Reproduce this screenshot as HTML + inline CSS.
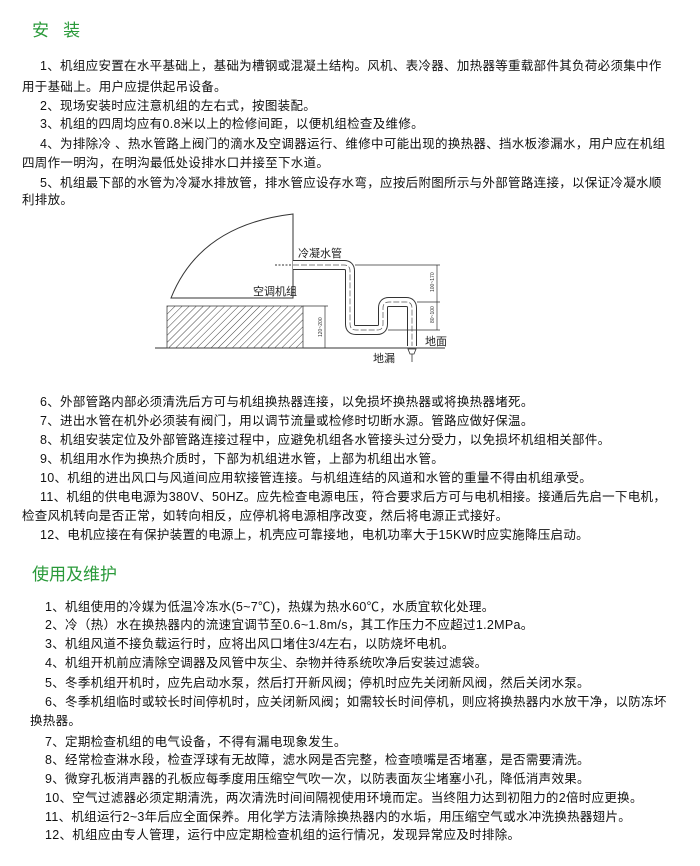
<!DOCTYPE html>
<html><head><meta charset="utf-8"><style>
html,body{margin:0;padding:0;background:#fff;}
body{width:700px;height:866px;position:relative;overflow:hidden;font-family:"Liberation Sans","Noto Sans CJK SC","WenQuanYi Zen Hei",sans-serif;color:#111;}
.t{position:absolute;font-size:12.5px;line-height:18px;white-space:nowrap;letter-spacing:0.3px;}
.h{position:absolute;color:#2a9a3a;font-size:17px;line-height:20px;white-space:nowrap;}
</style></head><body>
<div class="h" style="left:32px;top:21px;">安&nbsp;&nbsp;&nbsp;装</div>
<div class="t" style="left:40px;top:57px;">1、机组应安置在水平基础上，基础为槽钢或混凝土结构。风机、表冷器、加热器等重载部件其负荷必须集中作</div>
<div class="t" style="left:22px;top:78px;">用于基础上。用户应提供起吊设备。</div>
<div class="t" style="left:40px;top:97px;">2、现场安装时应注意机组的左右式，按图装配。</div>
<div class="t" style="left:40px;top:115px;">3、机组的四周均应有0.8米以上的检修间距，以便机组检查及维修。</div>
<div class="t" style="left:40px;top:135px;">4、为排除冷 、热水管路上阀门的滴水及空调器运行、维修中可能出现的换热器、挡水板渗漏水，用户应在机组</div>
<div class="t" style="left:22px;top:154px;">四周作一明沟，在明沟最低处设排水口并接至下水道。</div>
<div class="t" style="left:40px;top:174px;">5、机组最下部的水管为冷凝水排放管，排水管应设存水弯，应按后附图所示与外部管路连接，以保证冷凝水顺</div>
<div class="t" style="left:22px;top:191px;">利排放。</div>

<svg style="position:absolute;left:0;top:0" width="700" height="866">
<defs><pattern id="hp" width="5" height="5" patternUnits="userSpaceOnUse" patternTransform="rotate(45)"><line x1="0" y1="0" x2="0" y2="5" stroke="#444" stroke-width="1"/></pattern></defs>
<line x1="155" y1="348" x2="445" y2="348" stroke="#333" stroke-width="1"/>
<rect x="167" y="306" width="136" height="42" fill="url(#hp)" stroke="#444" stroke-width="0.8"/>
<path d="M171 298 Q200 225 293 214 L293 298 Z" fill="none" stroke="#333" stroke-width="1"/>
<text x="253" y="295" font-size="11" fill="#222" font-family="Liberation Sans,Noto Sans CJK SC,sans-serif">空调机组</text>
<text x="298" y="257" font-size="11" fill="#222" font-family="Liberation Sans,Noto Sans CJK SC,sans-serif">冷凝水管</text>
<line x1="275" y1="265" x2="293" y2="265" stroke="#333" stroke-dasharray="2,1.5"/>
<path d="M293 265 H344 Q350 265 350 271 V324 Q350 330 356 330 H377 Q383 330 383 324 V308 Q383 302 389 302 H406 Q412 302 412 308 V346" fill="none" stroke="#333" stroke-width="10"/>
<path d="M293 265 H344 Q350 265 350 271 V324 Q350 330 356 330 H377 Q383 330 383 324 V308 Q383 302 389 302 H406 Q412 302 412 308 V346" fill="none" stroke="#fff" stroke-width="8"/>
<path d="M293 265 H344 Q350 265 350 271 V324 Q350 330 356 330 H377 Q383 330 383 324 V308 Q383 302 389 302 H406 Q412 302 412 308 V346" fill="none" stroke="#555" stroke-width="0.7" stroke-dasharray="6,2"/>
<line x1="355" y1="265" x2="440" y2="265" stroke="#333" stroke-width="0.7"/>
<line x1="417" y1="302" x2="440" y2="302" stroke="#333" stroke-width="0.7"/>
<line x1="388" y1="330" x2="440" y2="330" stroke="#333" stroke-width="0.7"/>
<line x1="437" y1="265" x2="437" y2="330" stroke="#333" stroke-width="0.7"/>
<text transform="translate(434,292) rotate(-90)" font-size="5" fill="#333">100~170</text>
<text transform="translate(434,323) rotate(-90)" font-size="5" fill="#333">80~100</text>
<line x1="303" y1="306" x2="328" y2="306" stroke="#333" stroke-width="0.7"/>
<line x1="325" y1="306" x2="325" y2="348" stroke="#333" stroke-width="0.7"/>
<text transform="translate(322,337) rotate(-90)" font-size="5" fill="#333">120~200</text>
<path d="M408 349 H416 L414 354 H410 Z" fill="none" stroke="#333" stroke-width="0.8"/>
<line x1="412" y1="354" x2="412" y2="362" stroke="#333" stroke-width="0.8"/>
<text x="425" y="345" font-size="11" fill="#222" font-family="Liberation Sans,Noto Sans CJK SC,sans-serif">地面</text>
<text x="373" y="362" font-size="11" fill="#222" font-family="Liberation Sans,Noto Sans CJK SC,sans-serif">地漏</text>
</svg>

<div class="t" style="left:40px;top:393px;">6、外部管路内部必须清洗后方可与机组换热器连接，以免损坏换热器或将换热器堵死。</div>
<div class="t" style="left:40px;top:412px;">7、进出水管在机外必须装有阀门，用以调节流量或检修时切断水源。管路应做好保温。</div>
<div class="t" style="left:40px;top:431px;">8、机组安装定位及外部管路连接过程中，应避免机组各水管接头过分受力，以免损坏机组相关部件。</div>
<div class="t" style="left:40px;top:450px;">9、机组用水作为换热介质时，下部为机组进水管，上部为机组出水管。</div>
<div class="t" style="left:40px;top:469px;">10、机组的进出风口与风道间应用软接管连接。与机组连结的风道和水管的重量不得由机组承受。</div>
<div class="t" style="left:40px;top:488px;">11、机组的供电电源为380V、50HZ。应先检查电源电压，符合要求后方可与电机相接。接通后先启一下电机，</div>
<div class="t" style="left:22px;top:507px;">检查风机转向是否正常，如转向相反，应停机将电源相序改变，然后将电源正式接好。</div>
<div class="t" style="left:40px;top:526px;">12、电机应接在有保护装置的电源上，机壳应可靠接地，电机功率大于15KW时应实施降压启动。</div>

<div class="h" style="left:32px;top:565px;">使用及维护</div>
<div class="t" style="left:45px;top:598px;">1、机组使用的冷媒为低温冷冻水(5~7℃)，热媒为热水60℃，水质宜软化处理。</div>
<div class="t" style="left:45px;top:616px;">2、冷（热）水在换热器内的流速宜调节至0.6~1.8m/s，其工作压力不应超过1.2MPa。</div>
<div class="t" style="left:45px;top:635px;">3、机组风道不接负载运行时，应将出风口堵住3/4左右，以防烧坏电机。</div>
<div class="t" style="left:45px;top:654px;">4、机组开机前应清除空调器及风管中灰尘、杂物并待系统吹净后安装过滤袋。</div>
<div class="t" style="left:45px;top:674px;">5、冬季机组开机时，应先启动水泵，然后打开新风阀；停机时应先关闭新风阀，然后关闭水泵。</div>
<div class="t" style="left:45px;top:693px;">6、冬季机组临时或较长时间停机时，应关闭新风阀；如需较长时间停机，则应将换热器内水放干净，以防冻坏</div>
<div class="t" style="left:30px;top:712px;">换热器。</div>
<div class="t" style="left:45px;top:733px;">7、定期检查机组的电气设备，不得有漏电现象发生。</div>
<div class="t" style="left:45px;top:751px;">8、经常检查淋水段，检查浮球有无故障，滤水网是否完整，检查喷嘴是否堵塞，是否需要清洗。</div>
<div class="t" style="left:45px;top:770px;">9、微穿孔板消声器的孔板应每季度用压缩空气吹一次，以防表面灰尘堵塞小孔，降低消声效果。</div>
<div class="t" style="left:45px;top:789px;">10、空气过滤器必须定期清洗，两次清洗时间间隔视使用环境而定。当终阻力达到初阻力的2倍时应更换。</div>
<div class="t" style="left:45px;top:808px;">11、机组运行2~3年后应全面保养。用化学方法清除换热器内的水垢，用压缩空气或水冲洗换热器翅片。</div>
<div class="t" style="left:45px;top:826px;">12、机组应由专人管理，运行中应定期检查机组的运行情况，发现异常应及时排除。</div>
</body></html>
